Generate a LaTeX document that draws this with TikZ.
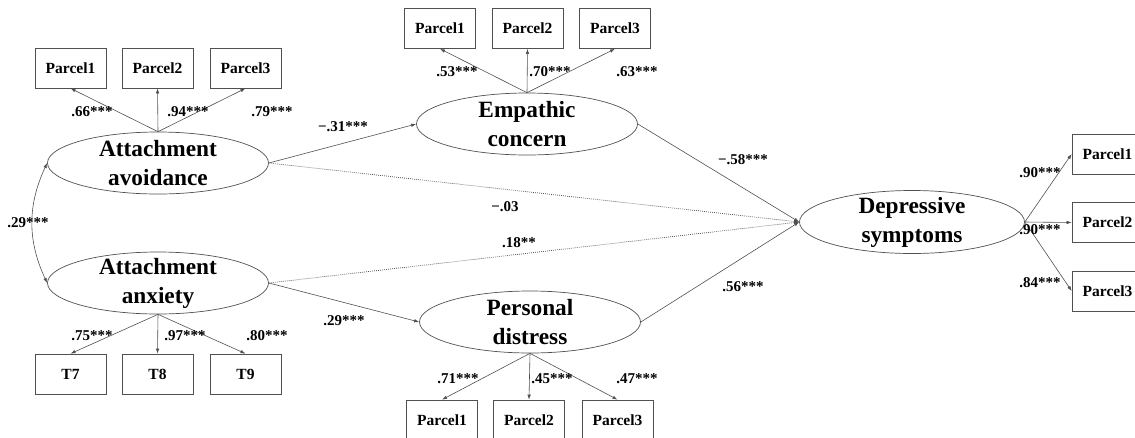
\documentclass[tikz,border=0pt]{standalone}
\usepackage{fontspec}
\setmainfont{Liberation Serif}
\usetikzlibrary{arrows.meta,shapes.geometric}
\definecolor{ln}{HTML}{505050}
\begin{document}
\begin{tikzpicture}[x=1pt,y=-1pt,
  latent/.style={draw=ln,line width=0.7pt,ellipse,minimum width=221pt,minimum height=62pt,inner sep=0pt},
  lattext/.style={font=\bfseries\fontsize{23.3}{29}\selectfont,align=center,inner sep=0pt},
  obs/.style={draw=ln,line width=0.7pt,minimum width=71pt,minimum height=40pt,inner sep=0pt,font=\bfseries\fontsize{15.5}{18}\selectfont},
  coef/.style={font=\bfseries\fontsize{15}{18}\selectfont,inner sep=0pt},
  arr/.style={draw=ln,line width=0.6pt,-{Latex[length=5pt,width=3.5pt]}},
  dot/.style={arr,line width=0.75pt,dash pattern=on 0.8pt off 1.2pt}]
\useasboundingbox (0,0) rectangle (1135,437);
% latent variables
\node[latent] (av) at (158,163) {};
\node[lattext] at (av.center) {Attachment\\avoidance};
\node[latent] (ax) at (158,283) {};
\node[lattext] at (ax.center) {Attachment\\anxiety};
\node[latent] (ec) at (527,124) {};
\node[lattext] at (ec.center) {Empathic\\concern};
\node[latent] (pd) at (530,322) {};
\node[lattext] at (pd.center) {Personal\\distress};
\node[latent,minimum width=225pt,minimum height=63pt] (ds) at (912,222) {};
\node[lattext] at (ds.center) {Depressive\\symptoms};
% indicators
\node[obs] (av1) at (70.5,68) {Parcel1};
\node[obs] (av2) at (157.5,68) {Parcel2};
\node[obs] (av3) at (245.5,68) {Parcel3};
\node[obs] (ax1) at (70.5,374) {T7};
\node[obs] (ax2) at (157.5,374) {T8};
\node[obs] (ax3) at (245.5,374) {T9};
\node[obs] (ec1) at (440,28.5) {Parcel1};
\node[obs] (ec2) at (527.5,28.5) {Parcel2};
\node[obs] (ec3) at (615,28.5) {Parcel3};
\node[obs] (pd1) at (442,420) {Parcel1};
\node[obs] (pd2) at (529,420) {Parcel2};
\node[obs] (pd3) at (617.5,420) {Parcel3};
\node[obs] (ds1) at (1107.5,154) {Parcel1};
\node[obs] (ds2) at (1107.5,222.5) {Parcel2};
\node[obs] (ds3) at (1107.5,291) {Parcel3};
% loadings
\foreach \i in {1,2,3} {
  \draw[arr] (av.north) -- (av\i.south);
  \draw[arr] (ax.south) -- (ax\i.north);
  \draw[arr] (ec.north) -- (ec\i.south);
  \draw[arr] (pd.south) -- (pd\i.north);
  \draw[arr] (ds.east) -- (ds\i.west);
}
\node[coef] at (92,112) {.66***};
\node[coef] at (188,112) {.94***};
\node[coef] at (272,112) {.79***};
\node[coef] at (92,336) {.75***};
\node[coef] at (185,336) {.97***};
\node[coef] at (267,336) {.80***};
\node[coef] at (457,72) {.53***};
\node[coef] at (550,72) {.70***};
\node[coef] at (637,72) {.63***};
\node[coef] at (458,379) {.71***};
\node[coef] at (552,379) {.45***};
\node[coef] at (637,379) {.47***};
\node[coef] at (1040,173) {.90***};
\node[coef] at (1040,230) {.90***};
\node[coef] at (1040,283) {.84***};
% correlation
\draw[draw=ln,line width=0.6pt,{Latex[length=5pt,width=3.5pt]}-{Latex[length=5pt,width=3.5pt]}] (av.west) to[out=-115,in=115] (ax.west);
\node[coef] at (28,223) {.29***};
% structural paths
\draw[arr] (av.east) -- (ec.west);
\draw[arr] (ax.east) -- (pd.west);
\draw[arr] (ec.east) -- (ds.west);
\draw[arr] (pd.east) -- (ds.west);
\draw[dot] (av.east) -- (ds.west);
\draw[dot] (ax.east) -- (ds.west);
\node[coef] at (343,127) {−.31***};
\node[coef] at (344,321) {.29***};
\node[coef] at (743,160) {−.58***};
\node[coef] at (743,287) {.56***};
\node[coef] at (505,207) {−.03};
\node[coef] at (519,243) {.18**};
\end{tikzpicture}
\end{document}
